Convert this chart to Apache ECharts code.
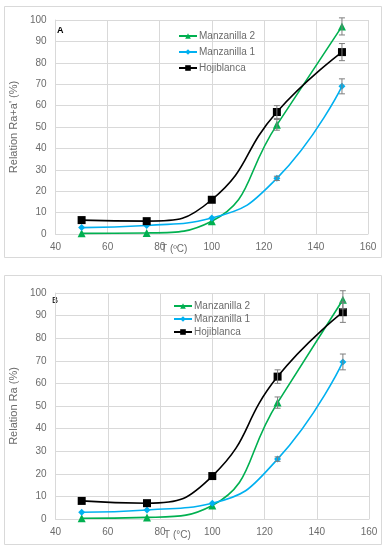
<!DOCTYPE html>
<html><head><meta charset="utf-8">
<script src="https://cdn.jsdelivr.net/npm/echarts@6/dist/echarts.min.js"></script>
<style>html,body{margin:0;padding:0;background:#fff}#c{width:388px;height:550px}</style>
</head><body><div id="c"></div>
<script>
var temps = [50, 75, 100, 125, 150];
var seriesNames = ['Manzanilla 2', 'Manzanilla 1', 'Hojiblanca'];
// Chart A: Relation Ra+a' (%)
var aMan2 = [0.3, 0.5, 6, 51, 97];
var aMan1 = [3, 4, 7.5, 26, 69];
var aHoji = [6.5, 6, 16, 57, 85];
var aMan2Err = [0, 0, 0, 2.5, 4];
var aMan1Err = [0, 0, 0, 1, 3.5];
var aHojiErr = [0, 0, 0, 3, 4];
// Chart B: Relation Ra (%)
var bMan2 = [0.3, 0.7, 6, 51.5, 97];
var bMan1 = [3, 4, 7, 26.5, 69.5];
var bHoji = [8, 7, 19, 63, 91.5];
var bMan2Err = [0, 0, 0, 2.5, 4];
var bMan1Err = [0, 0, 0, 1, 3.5];
var bHojiErr = [0, 0, 0, 3, 4.5];
var xTicks = [40, 60, 80, 100, 120, 140, 160];
var yTicks = [0, 10, 20, 30, 40, 50, 60, 70, 80, 90, 100];

var colors = {'Manzanilla 2': '#00B050', 'Manzanilla 1': '#00B0F0', 'Hojiblanca': '#000000'};
var symbols = {'Manzanilla 2': 'triangle', 'Manzanilla 1': 'diamond', 'Hojiblanca': 'rect'};
var symSizes = {'Manzanilla 2': 8, 'Manzanilla 1': 7, 'Hojiblanca': 8};
var font = 'Liberation Sans';
var gridCol = '#d9d9d9';
var txtCol = '#6b6b6b';

function pairs(vals) { return temps.map(function (t, i) { return [t, vals[i]]; }); }
function errData(vals, errs) { return temps.map(function (t, i) { return [t, vals[i] - errs[i], vals[i] + errs[i]]; }).filter(function (d) { return d[2] > d[1]; }); }

function lineSeries(name, vals, idx) {
  return {
    type: 'line', name: name, xAxisIndex: idx, yAxisIndex: idx,
    data: pairs(vals), smooth: 0.5, symbol: symbols[name], symbolSize: symSizes[name],
    itemStyle: {color: colors[name]}, lineStyle: {color: colors[name], width: 1.6}, z: 3
  };
}
function errSeries(vals, errs, idx) {
  return {
    type: 'custom', xAxisIndex: idx, yAxisIndex: idx, z: 4, silent: true,
    data: errData(vals, errs),
    renderItem: function (params, api) {
      var lo = api.coord([api.value(0), api.value(1)]);
      var hi = api.coord([api.value(0), api.value(2)]);
      var w = 3;
      var st = {stroke: '#7f7f7f', lineWidth: 1, fill: null};
      return {type: 'group', children: [
        {type: 'line', shape: {x1: lo[0], y1: lo[1], x2: hi[0], y2: hi[1]}, style: st},
        {type: 'line', shape: {x1: lo[0] - w, y1: lo[1], x2: lo[0] + w, y2: lo[1]}, style: st},
        {type: 'line', shape: {x1: hi[0] - w, y1: hi[1], x2: hi[0] + w, y2: hi[1]}, style: st}
      ]};
    }
  };
}
function xAxis(idx) {
  return {
    type: 'value', gridIndex: idx, min: xTicks[0], max: xTicks[xTicks.length - 1], interval: 20,
    axisLine: {show: true, lineStyle: {color: gridCol}}, axisTick: {show: false},
    axisLabel: {color: txtCol, fontFamily: font, fontSize: 10, margin: 8},
    splitLine: {show: true, lineStyle: {color: gridCol}}
  };
}
function yAxis(idx, title) {
  return {
    type: 'value', gridIndex: idx, min: yTicks[0], max: yTicks[yTicks.length - 1], interval: 10,
    name: title, nameLocation: 'middle', nameGap: 22,
    nameTextStyle: {color: txtCol, fontFamily: font, fontSize: 11},
    axisLine: {show: true, lineStyle: {color: gridCol}}, axisTick: {show: false},
    axisLabel: {color: txtCol, fontFamily: font, fontSize: 10, margin: 9},
    splitLine: {show: true, lineStyle: {color: gridCol}}
  };
}
function legend(top, left, gap) {
  return {
    data: seriesNames, orient: 'vertical', left: left, top: top, itemGap: gap,
    itemWidth: 18, itemHeight: 7, padding: 0,
    textStyle: {color: txtCol, fontFamily: font, fontSize: 10, padding: [0, 0, 0, -3]}
  };
}

var chart = echarts.init(document.getElementById('c'));
chart.setOption({
  animation: false,
  backgroundColor: '#ffffff',
  grid: [
    {left: 39, right: 20, top: 20, bottom: 316},
    {left: 39, right: 19, top: 293, bottom: 31}
  ],
  xAxis: [xAxis(0), xAxis(1)],
  yAxis: [yAxis(0, "Relation Ra+a' (%)"), yAxis(1, 'Relation Ra (%)')],
  legend: [legend(31, 178, 6), legend(301, 173, 3)],
  graphic: [
    {type: 'rect', shape: {x: 4.5, y: 6.5, width: 377, height: 251}, style: {fill: null, stroke: gridCol, lineWidth: 1}, silent: true},
    {type: 'rect', shape: {x: 4.5, y: 275.5, width: 377, height: 269}, style: {fill: null, stroke: gridCol, lineWidth: 1}, silent: true},
    {type: 'text', left: 57, top: 26, style: {text: 'A', fill: '#000', font: 'bold 9px ' + font}},
    {type: 'text', left: 52, top: 296, style: {text: 'B', fill: '#000', font: '9px ' + font}},
    {type: 'text', left: 161, top: 244, style: {text: 'T (ºC)', fill: txtCol, font: '10px ' + font}},
    {type: 'text', left: 164, top: 530, style: {text: 'T (°C)', fill: txtCol, font: '10px ' + font}}
  ],
  series: [
    lineSeries('Manzanilla 2', aMan2, 0), lineSeries('Manzanilla 1', aMan1, 0), lineSeries('Hojiblanca', aHoji, 0),
    errSeries(aMan2, aMan2Err, 0), errSeries(aMan1, aMan1Err, 0), errSeries(aHoji, aHojiErr, 0),
    lineSeries('Manzanilla 2', bMan2, 1), lineSeries('Manzanilla 1', bMan1, 1), lineSeries('Hojiblanca', bHoji, 1),
    errSeries(bMan2, bMan2Err, 1), errSeries(bMan1, bMan1Err, 1), errSeries(bHoji, bHojiErr, 1)
  ]
});
</script></body></html>
